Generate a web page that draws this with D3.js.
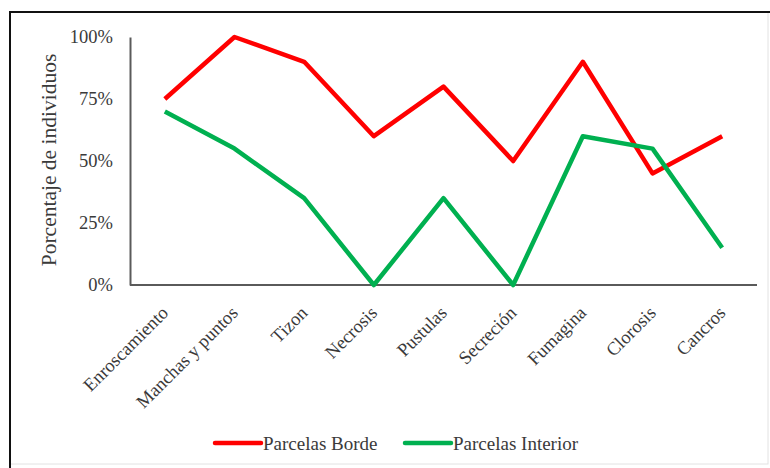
<!DOCTYPE html>
<html>
<head>
<meta charset="utf-8">
<script src="https://cdn.jsdelivr.net/npm/d3@7"></script>
<style>
  body { margin: 0; background: #fff; }
  text { font-family: "Liberation Serif", "Times New Roman", serif; fill: #3a3a3a; }
</style>
</head>
<body>
<div id="chart"></div>
<script>
const width = 770;
const height = 468;

const categories = ["Enroscamiento", "Manchas y puntos", "Tizon", "Necrosis", "Pustulas",
    "Secreción", "Fumagina", "Clorosis", "Cancros"];
const borde = [75, 100, 90, 60, 80, 50, 90, 45, 60];
const interior = [70, 55, 35, 0, 35, 0, 60, 55, 15];
const yTicks = [0, 25, 50, 75, 100];
const seriesNames = ["Parcelas Borde", "Parcelas Interior"];
const seriesColors = ["#ff0000", "#00b050"];

const margin = {left: 130, right: 13, top: 37, bottom: 183};

const svg = d3.select("#chart").append("svg")
    .attr("width", width)
    .attr("height", height);

// outer frame
svg.append("rect")
    .attr("x", 10).attr("y", 12)
    .attr("width", 758).attr("height", 452)
    .attr("fill", "none")
    .attr("stroke", "#e2e2e2")
    .attr("stroke-width", 1);
svg.append("path")
    .attr("d", "M10,468V12H770")
    .attr("fill", "none")
    .attr("stroke", "#111")
    .attr("stroke-width", 2);

const x = d3.scalePoint()
    .domain(categories)
    .range([margin.left, width - margin.right])
    .padding(0.5);

const y = d3.scaleLinear()
    .domain([0, 100])
    .range([height - margin.bottom, margin.top]);

// y axis
const yAxis = svg.append("g")
    .attr("transform", `translate(${margin.left},0)`)
    .call(d3.axisLeft(y).tickValues(yTicks).tickSize(0).tickPadding(17).tickFormat(d => d + "%"));
yAxis.select(".domain").attr("stroke", "#5a5a5a").attr("stroke-width", 2);
yAxis.selectAll("text").style("font-size", "18.5px").style("font-family", "Liberation Serif");

// x axis
const xAxis = svg.append("g")
    .attr("transform", `translate(0,${y(0)})`)
    .call(d3.axisBottom(x).tickSize(0).tickSizeOuter(0));
xAxis.select(".domain")
    .attr("d", `M${margin.left},0H${width - margin.right}`)
    .attr("stroke", "#5a5a5a").attr("stroke-width", 2);
xAxis.selectAll("text")
    .style("font-size", "18.5px").style("font-family", "Liberation Serif")
    .attr("text-anchor", "end")
    .attr("dy", null).attr("y", null)
    .attr("transform", "translate(4,29) rotate(-45)");

// y title
svg.append("text")
    .attr("transform", "translate(56,160) rotate(-90)")
    .attr("text-anchor", "middle")
    .style("font-size", "21.5px")
    .text("Porcentaje de individuos");

const line = d3.line()
    .x((d, i) => x(categories[i]))
    .y(d => y(d));

[borde, interior].forEach((s, k) => {
    svg.append("path")
        .datum(s)
        .attr("d", line)
        .attr("fill", "none")
        .attr("stroke", seriesColors[k])
        .attr("stroke-width", 4.5)
        .attr("stroke-linejoin", "round");
});

// legend
const legendX = [215, 405];
seriesNames.forEach((name, k) => {
    const g = svg.append("g").attr("transform", `translate(${legendX[k]},443)`);
    g.append("line")
        .attr("x1", 0).attr("x2", 46)
        .attr("stroke", seriesColors[k])
        .attr("stroke-width", 4.5)
        .attr("stroke-linecap", "round");
    g.append("text")
        .attr("x", 48).attr("dy", "0.35em")
        .style("font-size", "19px")
        .text(name);
});
</script>
</body>
</html>
